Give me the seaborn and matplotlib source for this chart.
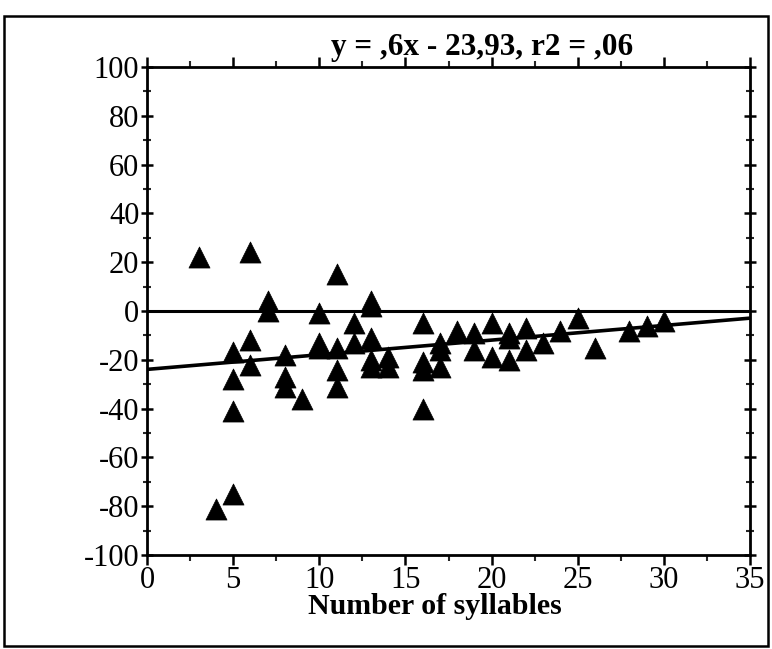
import matplotlib
matplotlib.use("Agg")
import matplotlib.pyplot as plt
from matplotlib.ticker import MultipleLocator
from matplotlib.patches import Rectangle
import numpy as np
import pandas as pd
import seaborn as sns

# ---- data ----
syllables = [3, 4, 5, 5, 5, 5, 6, 6, 6, 7, 7, 8, 8, 8, 9, 10, 10, 10,
             11, 11, 11, 11, 12, 12, 13, 13, 13, 13, 13, 14, 14,
             16, 16, 16, 16, 17, 17, 17, 18, 19, 19, 20, 20, 21, 21, 21,
             22, 22, 23, 24, 25, 26, 28, 29, 30]
difference = [22, -81, -17, -28, -41, -75, 24, -12, -22, 4, 0, -18, -27, -31, -36, -1, -13, -15,
              15, -15, -24, -31, -5, -13, 4, 2, -11, -20, -23, -19, -23,
              -5, -21, -24, -40, -13, -16, -23, -8, -9, -16, -5, -19, -9, -11, -20,
              -7, -16, -13, -8, -3, -15, -8, -6, -4]
slope = 0.6
intercept = -23.93
title_text = "y = ,6x - 23,93, r2 = ,06"
x_label = "Number of syllables"
x_ticks = [0, 5, 10, 15, 20, 25, 30, 35]
y_ticks = [-100, -80, -60, -40, -20, 0, 20, 40, 60, 80, 100]

df = pd.DataFrame({"syll": syllables, "diff": difference})

sns.set_style("ticks")
plt.rcParams["font.family"] = ["Liberation Serif", "DejaVu Serif"]
plt.rcParams["axes.unicode_minus"] = False
plt.rcParams["text.color"] = "black"

W, H = 772, 649
fig = plt.figure(figsize=(W / 100, H / 100), dpi=100)
left, right, top, bottom = 147, 750, 67, 555
ax = fig.add_axes([left / W, 1 - bottom / H, (right - left) / W, (bottom - top) / H])

# reference lines
ax.axhline(0, color="black", lw=2.2, zorder=1)
xs = np.array([0, 35])
ax.plot(xs, slope * xs + intercept, color="black", lw=2.6, zorder=1)

sns.scatterplot(data=df, x="syll", y="diff", marker="^", s=230, color="black",
                edgecolor="black", linewidth=0.5, ax=ax, zorder=3, legend=False)

ax.set_xlim(0, 35)
ax.set_ylim(-100, 100)
ax.set_xticks(x_ticks)
ax.set_yticks(y_ticks)
ax.xaxis.set_minor_locator(MultipleLocator(2.5))
ax.yaxis.set_minor_locator(MultipleLocator(10))
ax.tick_params(axis="both", which="major", direction="out", length=7, width=1.8,
               labelsize=22, pad=1, top=True, right=True, colors="black")
ax.tick_params(axis="both", which="minor", direction="out", length=4, width=1.5,
               top=True, right=True)
ax.tick_params(axis="y", which="both", direction="inout", length=9)
ax.tick_params(axis="y", which="minor", length=6)
for sp in ax.spines.values():
    sp.set_visible(True)
    sp.set_linewidth(2)
    sp.set_color("black")
ax.set_xlabel("")
ax.set_ylabel("")

fig.text(482 / W, 1 - 47 / H, title_text, ha="center", va="center",
         fontsize=22.5, fontweight="bold", color="black")
fig.text(435 / W, 1 - 606 / H, x_label, ha="center", va="center",
         fontsize=21.5, fontweight="bold", color="black")

fig.patches.append(Rectangle((4 / W, 1 - 646 / H), 764 / W, 630 / H,
                             transform=fig.transFigure, fill=False,
                             edgecolor="black", lw=1.8))

fig.savefig("out.png", dpi=100)
